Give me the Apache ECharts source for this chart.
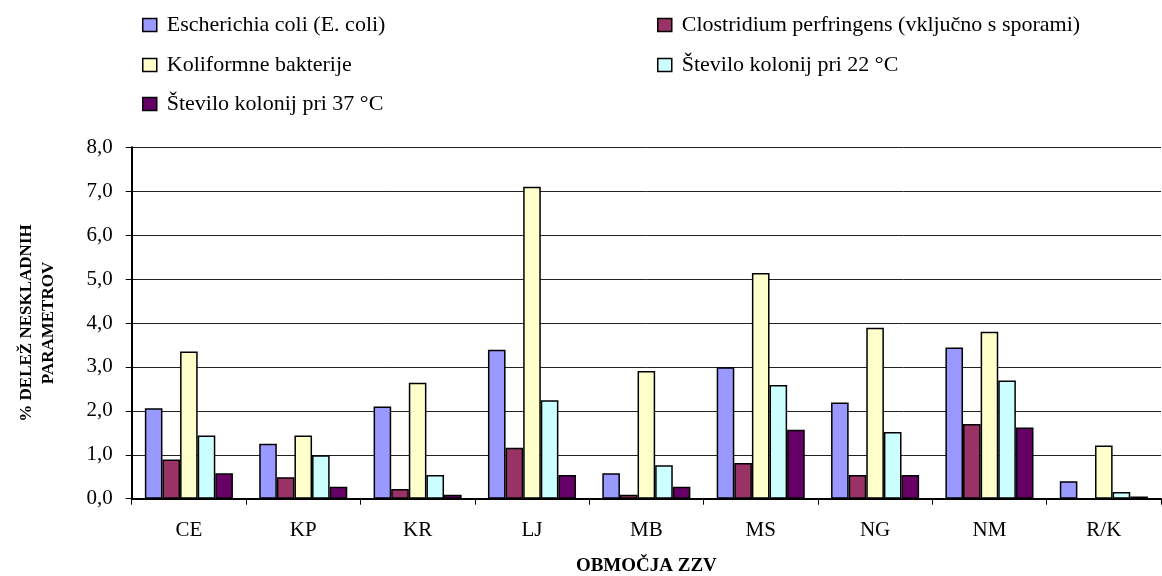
<!DOCTYPE html>
<html><head><meta charset="utf-8">
<script src="https://cdn.jsdelivr.net/npm/echarts@6/dist/echarts.min.js"></script>
<style>html,body{margin:0;padding:0;background:#fff}#c{width:1162px;height:576px}</style>
</head><body><div id="c"></div>
<script>
const categories = ['CE','KP','KR','LJ','MB','MS','NG','NM','R/K'];
const seriesNames = ['Escherichia coli (E. coli)','Clostridium perfringens (vključno s sporami)','Koliformne bakterije','Število kolonij pri 22 °C','Število kolonij pri 37 °C'];
const ecoli      = [2.06, 1.25, 2.10, 3.39, 0.58, 2.99, 2.19, 3.44, 0.40];
const clostr     = [0.89, 0.49, 0.22, 1.16, 0.09, 0.81, 0.54, 1.70, 0.00];
const koliform   = [3.35, 1.44, 2.64, 7.10, 2.91, 5.14, 3.89, 3.80, 1.21];
const kol22      = [1.44, 0.99, 0.54, 2.24, 0.76, 2.59, 1.52, 2.69, 0.15];
const kol37      = [0.58, 0.27, 0.09, 0.54, 0.27, 1.57, 0.54, 1.62, 0.05];
const yTicks = ['0,0','1,0','2,0','3,0','4,0','5,0','6,0','7,0','8,0'];
const colors = ['#9999FF','#993366','#FFFFCC','#CCFFFF','#660066'];
const values = [ecoli, clostr, koliform, kol22, kol37];
const FONT = '"Liberation Serif", "Times New Roman", serif';

const chart = echarts.init(document.getElementById('c'), null, {renderer:'canvas'});
const legendPos = [
  {left:142, top:14},
  {left:657, top:14},
  {left:142, top:54},
  {left:657, top:54},
  {left:142, top:93}
];
const legends = seriesNames.map((n,i)=>({
  data:[n], left:legendPos[i].left, top:legendPos[i].top,
  itemWidth:14, itemHeight:13, itemGap:0, icon:'rect',
  textStyle:{fontFamily:FONT, fontSize:22, color:'#000', padding:[0,0,0,5]},
  itemStyle:{borderColor:'#000', borderWidth:1.5},
  selectedMode:false, padding:0
}));
chart.setOption({
  animation:false,
  backgroundColor:'#fff',
  color:colors,
  legend:legends,
  grid:{left:131.7, top:147.3, right:1, bottom:77.3, containLabel:false, outerBoundsMode:'none'},
  xAxis:{
    type:'category', data:categories,
    name:'OBMOČJA ZZV', nameLocation:'middle', nameGap:58,
    nameTextStyle:{fontFamily:FONT, fontSize:19, fontWeight:'bold', color:'#000'},
    axisLine:{lineStyle:{color:'#000', width:2}},
    axisTick:{show:true, length:6, inside:false, lineStyle:{color:'#000', width:1}},
    axisLabel:{fontFamily:FONT, fontSize:21, color:'#000', margin:21}
  },
  yAxis:{
    type:'value', min:0, max:8, interval:1,
    name:'% DELEŽ NESKLADNIH\nPARAMETROV', nameLocation:'middle', nameGap:72, nameRotate:90,
    nameTextStyle:{fontFamily:FONT, fontSize:17, fontWeight:'bold', color:'#000', lineHeight:22},
    axisLine:{show:true, lineStyle:{color:'#000', width:2}},
    axisTick:{show:true, length:6, lineStyle:{color:'#000'}},
    axisLabel:{fontFamily:FONT, fontSize:21, color:'#000', margin:19,
      formatter:(v)=>yTicks[Math.round(v)]},
    splitLine:{show:true, lineStyle:{color:'#222', width:1}}
  },
  series: seriesNames.map((n,i)=>({
    name:n, type:'bar', data:values[i],
    barGap:'0%', barCategoryGap:'23%',
    itemStyle:{color:colors[i], borderColor:'#000', borderWidth:1.5}
  }))
});
</script></body></html>
